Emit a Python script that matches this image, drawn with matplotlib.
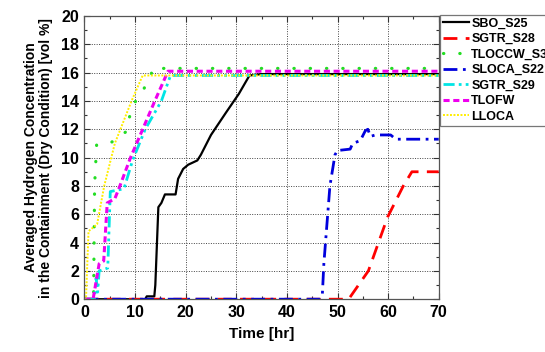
import matplotlib
matplotlib.use("Agg")
import matplotlib.pyplot as plt
from matplotlib.ticker import MultipleLocator

plt.rcParams['font.family'] = ['Liberation Sans', 'DejaVu Sans']
plt.rcParams['font.weight'] = 'bold'

sbo_t = [0, 12, 12.3, 13.8, 14.0, 14.6, 15.2, 15.9, 18.0, 18.5, 19.5, 20.5, 22.3, 23.0, 25, 28, 30.5, 32.6, 35, 70]
sbo_v = [0, 0, 0.2, 0.2, 1.0, 6.5, 6.8, 7.4, 7.4, 8.5, 9.2, 9.5, 9.8, 10.2, 11.6, 13.2, 14.5, 15.8, 15.9, 15.9]

s28_t = [0, 52.2, 56.1, 59.9, 63.0, 64.7, 70]
s28_v = [0, 0, 2.0, 5.8, 8.0, 9.0, 9.0]

tl3_t = [0, 1.8, 2.0, 2.4, 3.3, 4.5, 5.4, 6.7, 8.1, 9.3, 10.4, 11.8, 13.0, 13.9, 15, 70]
tl3_v = [0, 0, 8.0, 10.9, 11.0, 11.0, 11.1, 11.4, 11.8, 13.4, 14.2, 14.9, 15.8, 16.4, 16.3, 16.3]

s22_t = [0, 46.5, 47.0, 47.3, 48.5, 49.5, 50.0, 52.5, 53.0, 54.5, 55.5, 56.0, 56.5, 57.5, 60.5, 61.5, 70]
s22_v = [0, 0, 0.3, 2.5, 8.0, 10.2, 10.5, 10.6, 11.0, 11.2, 11.9, 12.0, 11.5, 11.6, 11.6, 11.3, 11.3]

s29_t = [0, 2.0, 2.3, 2.6, 2.9, 4.6, 5.1, 7.8, 9.5, 12.0, 15.2, 17.0, 70]
s29_v = [0, 0, 1.5, 0.5, 2.0, 2.2, 7.6, 7.8, 9.8, 12.0, 14.0, 15.8, 15.8]

tlofw_t = [0, 1.7, 2.9, 3.8, 4.5, 6.0, 7.0, 9.1, 11.5, 13.9, 16.5, 70]
tlofw_v = [0, 0, 2.5, 2.7, 6.8, 7.1, 8.0, 10.0, 12.0, 14.0, 16.1, 16.1]

llo_t = [0, 0.3, 0.8, 2.5, 3.9, 6.0, 9.3, 11.5, 70]
llo_v = [0, 0, 4.8, 5.3, 8.0, 11.0, 14.0, 15.8, 15.8]

fig = plt.figure(figsize=(5.45, 3.52), dpi=100)
ax = fig.add_axes([0.155, 0.15, 0.65, 0.8045])

ax.plot(sbo_t, sbo_v, color='black', lw=1.6, ls='-', label='SBO_S25')
ax.plot(s28_t, s28_v, color='#ff0000', lw=2.0, ls=(0, (5, 3)), label='SGTR_S28')
ax.plot(tl3_t, tl3_v, color='#22dd22', lw=2.3, ls=(0, (0.1, 5)), dash_capstyle='round', label='TLOCCW_S3')
ax.plot(s22_t, s22_v, color='#0000dd', lw=2.0, ls=(0, (5, 2, 1, 2)), label='SLOCA_S22')
ax.plot(s29_t, s29_v, color='#00e5e5', lw=2.0, ls=(0, (4, 1.5, 1, 1.5, 1, 1.5)), label='SGTR_S29')
ax.plot(tlofw_t, tlofw_v, color='#ee00ee', lw=2.2, ls=(0, (2, 1.2)), label='TLOFW')
ax.plot(llo_t, llo_v, color='#ffee00', lw=1.4, ls=(0, (1, 0.8)), label='LLOCA')

ax.set_xlim(0, 70)
ax.set_ylim(0, 20)
ax.xaxis.set_major_locator(MultipleLocator(10))
ax.xaxis.set_minor_locator(MultipleLocator(5))
ax.yaxis.set_major_locator(MultipleLocator(2))
ax.yaxis.set_minor_locator(MultipleLocator(1))
ax.tick_params(which='both', direction='in', top=True, right=True, labelsize=11.5, width=0.8, color='#333333')
ax.tick_params(which='major', length=4, pad=4)
ax.tick_params(which='minor', length=2.5)
ax.grid(True, which='major', color='#444444', ls=(0, (1, 1.5)), lw=0.7)
for s in ax.spines.values():
    s.set_color('#555555')
    s.set_linewidth(0.9)
for lbl in ax.get_xticklabels() + ax.get_yticklabels():
    lbl.set_fontweight('bold')

ax.set_xlabel('Time [hr]', fontsize=11, fontweight='bold', labelpad=5)
ax.set_ylabel('Averaged Hydrogen Concentration\nin the Containment (Dry Condition) [vol %]',
              fontsize=10, fontweight='bold', labelpad=6, linespacing=1.05)

leg = fig.legend(loc='upper left', bbox_to_anchor=(440 / 545, 1 - 14.5 / 352), fontsize=9,
                 frameon=True, fancybox=False, edgecolor='#555555', handlelength=2.1,
                 handletextpad=0.15, labelspacing=0.28, borderpad=0.25, borderaxespad=0)
leg.get_frame().set_linewidth(0.9)
for t in leg.get_texts():
    t.set_fontweight('bold')

fig.savefig('out.png', dpi=100)
